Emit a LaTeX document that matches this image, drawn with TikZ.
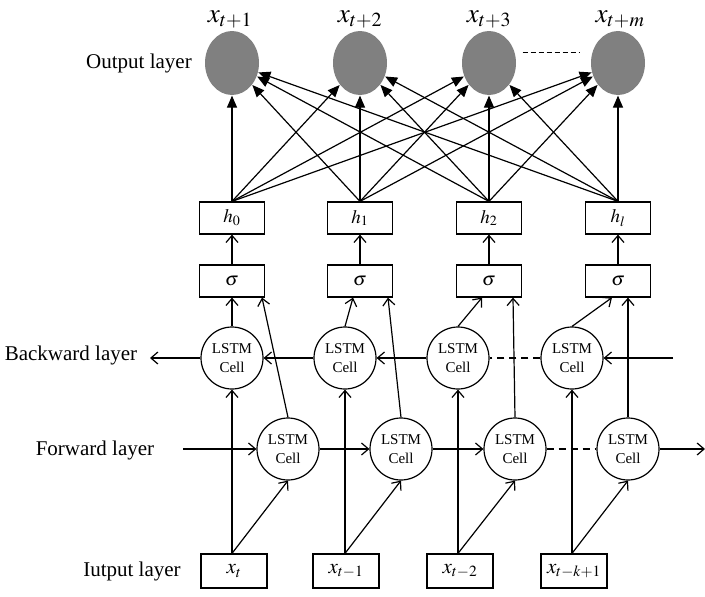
\documentclass[tikz,border=0pt]{standalone}
\usepackage{mathptmx}
\usepackage{fontspec}
\setmainfont{Liberation Serif}
\usetikzlibrary{arrows.meta, shapes.geometric}

\begin{document}
\begin{tikzpicture}[x=1pt, y=-1pt, line width=1.2pt,
        cell/.style={draw, circle, minimum size=62pt, inner sep=0pt, align=center,
            font=\fontsize{15}{19}\selectfont},
        unit/.style={draw, rectangle, minimum width=65pt, minimum height=32pt,
            inner sep=0pt, font=\fontsize{19}{22}\selectfont},
        inbox/.style={draw, rectangle, minimum width=66pt, minimum height=34pt,
            inner sep=0pt, font=\fontsize{21}{24}\selectfont},
        outnode/.style={ellipse, fill=black!50, minimum width=54pt, minimum height=64pt,
            inner sep=0pt},
        layer/.style={font=\fontsize{21}{24}\selectfont},
        outlabel/.style={anchor=base, font=\fontsize{27}{30}\selectfont},
        open/.style={-{Straight Barb[length=7pt, width=12pt]}},
        full/.style={-{Triangle[length=12pt, width=10pt]}},
        gap/.style={dash pattern=on 7pt off 5pt}]

        \useasboundingbox (0,0) rectangle (705,597);

        % output layer
        \node[outnode] (o1) at (232, 63) {};
        \node[outnode] (o2) at (360, 63) {};
        \node[outnode] (o3) at (489, 63) {};
        \node[outnode] (o4) at (618, 63) {};

        % hidden outputs and activations
        \node[unit] (h0) at (232, 218) {$h_0$};
        \node[unit] (h1) at (360, 218) {$h_1$};
        \node[unit] (h2) at (489, 218) {$h_2$};
        \node[unit] (hl) at (618, 218) {$h_l$};
        \node[unit] (s0) at (232, 281) {$\sigma$};
        \node[unit] (s1) at (360, 281) {$\sigma$};
        \node[unit] (s2) at (489, 281) {$\sigma$};
        \node[unit] (sl) at (618, 281) {$\sigma$};

        % backward cells
        \node[cell] (b1) at (232, 358) {LSTM\\Cell};
        \node[cell] (b2) at (345, 358) {LSTM\\Cell};
        \node[cell] (b3) at (458, 358) {LSTM\\Cell};
        \node[cell] (b4) at (572, 358) {LSTM\\Cell};
        \coordinate (bin) at (673, 358);
        \coordinate (bout) at (150, 358);

        % forward cells
        \node[cell] (f1) at (288, 449) {LSTM\\Cell};
        \node[cell] (f2) at (401, 449) {LSTM\\Cell};
        \node[cell] (f3) at (515, 449) {LSTM\\Cell};
        \node[cell] (f4) at (628, 449) {LSTM\\Cell};
        \coordinate (fin) at (183, 449);
        \coordinate (fout) at (705, 449);

        % inputs
        \node[inbox] (x1) at (234, 571) {$x_t$};
        \node[inbox] (x2) at (346, 571) {$x_{t-1}$};
        \node[inbox] (x3) at (460, 571) {$x_{t-2}$};
        \node[inbox] (x4) at (574, 571) {$x_{t-k+1}$};

        % inputs to both layers
        \draw[open] (x1.north -| b1) -- (b1);
        \draw[open] (x2.north -| b2) -- (b2);
        \draw[open] (x3.north -| b3) -- (b3);
        \draw[open] (x4.north -| b4) -- (b4);
        \draw[open] (x1.north -| b1) -- (f1.south);
        \draw[open] (x2.north -| b2) -- (f2.south);
        \draw[open] (x3.north -| b3) -- (f3.south);
        \draw[open] (x4.north -| b4) -- (f4.south);

        % forward chain
        \draw[open] (fin) -- (f1);
        \draw[open] (f1) -- (f2);
        \draw[open] (f2) -- (f3);
        \draw[gap] (f3) -- (f4);
        \draw[open] (f4) -- (fout);

        % backward chain
        \draw[open] (bin) -- (b4);
        \draw[gap] (b4) -- (b3);
        \draw[open] (b3) -- (b2);
        \draw[open] (b2) -- (b1);
        \draw[open] (b1) -- (bout);

        % cells to activations
        \draw[open] (b1.north) -- (s0.south);
        \draw[open] (b2.north) -- ([xshift=-7pt]s1.south);
        \draw[open] (b3.north) -- ([xshift=-7pt]s2.south);
        \draw[open] (b4.north) -- ([xshift=-6pt]sl.south);
        \draw[open] (f1.north) -- ([xshift=30pt]s0.south);
        \draw[open] (f2.north) -- ([xshift=28pt]s1.south);
        \draw[open] (f3.north) -- ([xshift=24pt]s2.south);
        \draw[open] (f4.north) -- ([xshift=10pt]sl.south);
        \draw[open] (s0) -- (h0);
        \draw[open] (s1) -- (h1);
        \draw[open] (s2) -- (h2);
        \draw[open] (sl) -- (hl);

        % fully connected outputs
        \draw[full] (h0.north) -- (o1);
        \draw[full] (h0.north) -- (o2);
        \draw[full] (h0.north) -- (o3);
        \draw[full] (h0.north) -- (o4);
        \draw[full] (h1.north) -- (o1);
        \draw[full] (h1.north) -- (o2);
        \draw[full] (h1.north) -- (o3);
        \draw[full] (h1.north) -- (o4);
        \draw[full] (h2.north) -- (o1);
        \draw[full] (h2.north) -- (o2);
        \draw[full] (h2.north) -- (o3);
        \draw[full] (h2.north) -- (o4);
        \draw[full] (hl.north) -- (o1);
        \draw[full] (hl.north) -- (o2);
        \draw[full] (hl.north) -- (o3);
        \draw[full] (hl.north) -- (o4);
        \draw[line width=1pt, dash pattern=on 5pt off 3pt, shorten <=6pt, shorten >=10pt]
            ([yshift=11pt]o3.east) -- ([yshift=11pt]o4.west);

        % labels
        \node[outlabel] (l1) at (230, 22) {$x_{t+1}$};
        \node[outlabel] (l2) at (360, 22) {$x_{t+2}$};
        \node[outlabel] (l3) at (489, 22) {$x_{t+3}$};
        \node[outlabel] (l4) at (620, 22) {$x_{t+m}$};
        \node[layer] (outname) at (139, 63) {Output layer};
        \node[layer] (backname) at (71, 355) {Backward layer};
        \node[layer] (forname) at (95, 450) {Forward layer};
        \node[layer] (inname) at (132, 571) {Iutput layer};
    \end{tikzpicture}
\end{document}
